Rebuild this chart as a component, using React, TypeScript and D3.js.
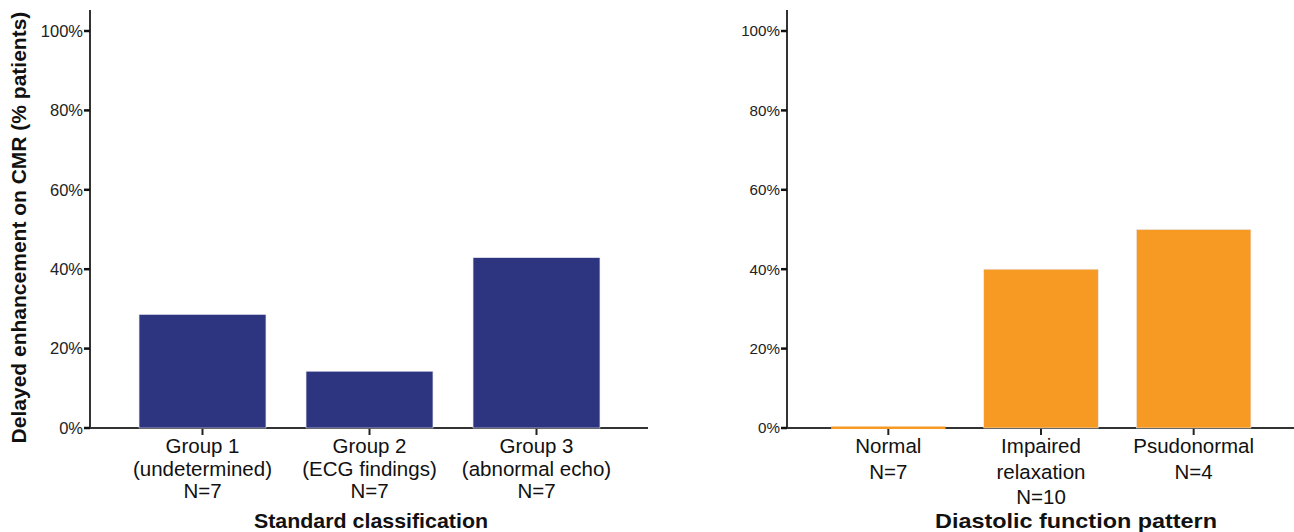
import React from "react";
import * as d3 from "d3";

const width = 1294;
const height = 532;

// left panel: standard classification
const leftGroups = ["Group 1", "Group 2", "Group 3"];
const leftSubs = ["(undetermined)", "(ECG findings)", "(abnormal echo)"];
const leftN = ["N=7", "N=7", "N=7"];
const leftValues = [28.6, 14.3, 42.9];

// right panel: diastolic function pattern
const rightLines = [["Normal", "N=7"], ["Impaired", "relaxation", "N=10"], ["Psudonormal", "N=4"]];
const rightValues = [0, 40, 50];

const yTicks = [0, 20, 40, 60, 80, 100];
const font = "Liberation Sans, Arial, Helvetica, sans-serif";
const axisColor = "#333";

type PanelProps = {
  labels: string[][];
  values: number[];
  color: string;
  axisX: number;
  axisEnd: number;
  bandRange: [number, number];
  inner: number;
  tickSize: number;
  catSize: number;
  lineGap: number;
  title: string;
  titleX: number;
  titleLen: number;
};

const y = d3.scaleLinear().domain([0, 100]).range([428, 31]);

function Panel(p: PanelProps) {
  const keys = p.labels.map((_, i) => String(i));
  const x = d3
    .scaleBand<string>()
    .domain(keys)
    .range(p.bandRange)
    .paddingInner(p.inner)
    .paddingOuter(p.inner / 2);

  return (
    <g>
      {/* y axis */}
      <line x1={p.axisX} x2={p.axisX} y1={10} y2={y(0)} stroke={axisColor} strokeWidth={2} />
      {yTicks.map(t => (
        <g key={t}>
          <line x1={p.axisX - 6} x2={p.axisX} y1={y(t)} y2={y(t)} stroke="#111" strokeWidth={2.5} />
          <text
            x={p.axisX - 7}
            y={y(t)}
            dy="0.35em"
            textAnchor="end"
            fontSize={p.tickSize}
            fill="#222"
          >
            {t + "%"}
          </text>
        </g>
      ))}
      {/* x axis */}
      <line x1={p.axisX} x2={p.axisEnd} y1={y(0)} y2={y(0)} stroke={axisColor} strokeWidth={2} />
      {keys.map(k => (
        <line
          key={k}
          x1={x(k)! + x.bandwidth() / 2}
          x2={x(k)! + x.bandwidth() / 2}
          y1={y(0)}
          y2={y(0) + 7}
          stroke="#222"
          strokeWidth={2}
        />
      ))}
      {/* bars */}
      {p.values.map((v, i) => {
        const top = y(v);
        const h = Math.max(2, y(0) - top);
        return (
          <rect
            key={i}
            x={x(keys[i])!}
            y={v === 0 ? y(0) - 1.5 : top}
            width={x.bandwidth()}
            height={v === 0 ? 2.5 : h}
            fill={p.color}
            stroke="#e8e8f0"
            strokeWidth={v === 0 ? 0 : 0.6}
          />
        );
      })}
      {/* category labels */}
      {p.labels.map((lines, i) => (
        <text
          key={i}
          x={x(keys[i])! + x.bandwidth() / 2}
          y={453}
          textAnchor="middle"
          fontSize={p.catSize}
          fill="#111"
        >
          {lines.map((l, j) => (
            <tspan key={j} x={x(keys[i])! + x.bandwidth() / 2} dy={j === 0 ? 0 : p.lineGap}>
              {l}
            </tspan>
          ))}
        </text>
      ))}
      <text
        x={p.titleX}
        y={528}
        textAnchor="middle"
        fontSize={21}
        fontWeight="bold"
        fill="#111"
        textLength={p.titleLen}
        lengthAdjust="spacingAndGlyphs"
      >
        {p.title}
      </text>
    </g>
  );
}

export default function App() {
  const leftLabels = leftGroups.map((g, i) => [g, leftSubs[i], leftN[i]]);
  return (
    <svg
      width={width}
      height={height}
      style={{ position: "absolute", left: 0, top: 0, background: "#fff" }}
      fontFamily={font}
    >
      <text
        transform={`translate(26,${(10 + 445) / 2}) rotate(-90)`}
        textAnchor="middle"
        fontSize={21}
        fontWeight="bold"
        fill="#111"
      >
        Delayed enhancement on CMR (% patients)
      </text>
      <Panel
        labels={leftLabels}
        values={leftValues}
        color="#2e3580"
        axisX={90}
        axisEnd={648}
        bandRange={[119, 620]}
        inner={0.24}
        tickSize={16.5}
        catSize={20.5}
        lineGap={22.5}
        title="Standard classification"
        titleX={371}
        titleLen={234}
      />
      <Panel
        labels={rightLines}
        values={rightValues}
        color="#f79a24"
        axisX={787}
        axisEnd={1294}
        bandRange={[812, 1270]}
        inner={0.25}
        tickSize={15.2}
        catSize={20.5}
        lineGap={25.5}
        title="Diastolic function pattern"
        titleX={1076}
        titleLen={282}
      />
    </svg>
  );
}
